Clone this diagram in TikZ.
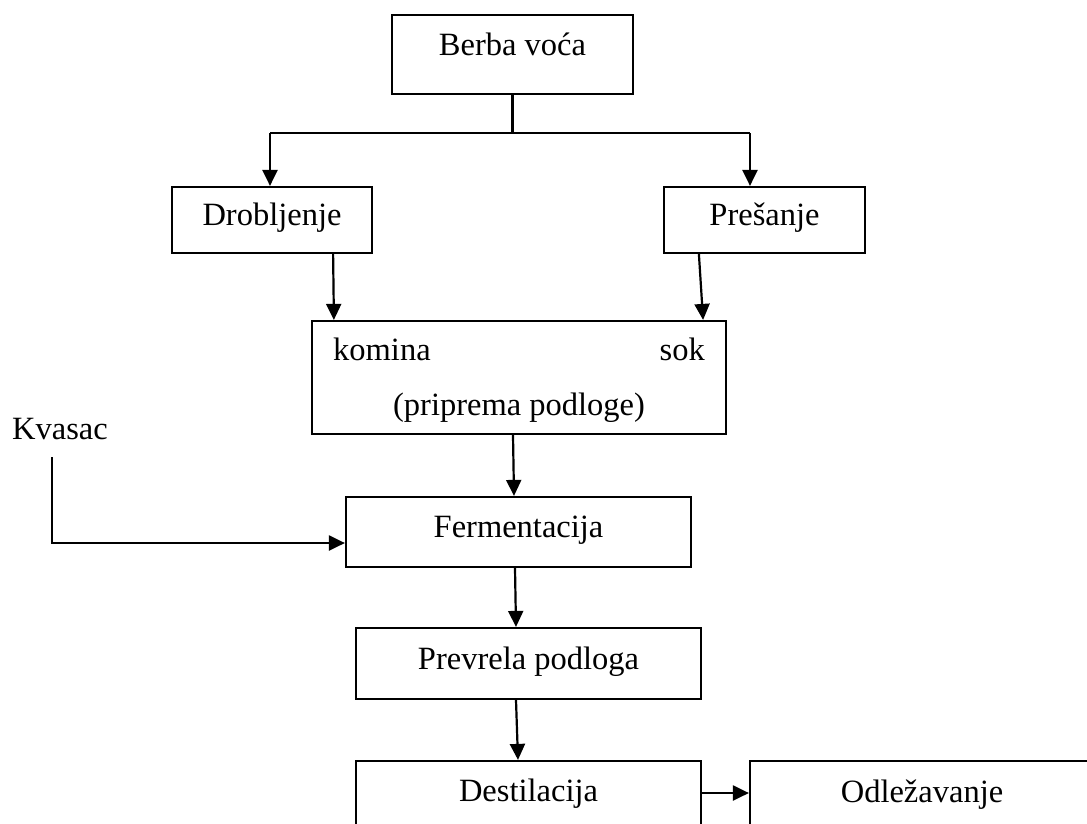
\documentclass[tikz,border=0pt]{standalone}
\usepackage{fontspec}
\setmainfont{Liberation Serif}
\usetikzlibrary{arrows.meta}
\begin{document}
\begin{tikzpicture}[x=1pt,y=-1pt,
  box/.style={draw, line width=2.2pt, inner xsep=0pt, inner ysep=0pt, anchor=base, font=\fontsize{32.5}{38}\selectfont},
  txt/.style={font=\fontsize{32.5}{38}\selectfont, inner sep=0pt},
  arr/.style={line width=2.2pt, -{Triangle[length=16pt,width=15pt]}},
  ln/.style={line width=2.2pt}]
\clip (0,0) rectangle (1087,823);
\fill[white] (0,0) rectangle (1087,823);
% boxes
\node[box, minimum width=241pt, text height=40pt, text depth=39pt] (berba) at (512.5,55) {Berba voća};
\node[box, minimum width=200pt, text height=38pt, text depth=28pt] (drob) at (272,225) {Drobljenje};
\node[box, minimum width=201pt, text height=38pt, text depth=28pt] (pres) at (764.5,225) {Prešanje};
\node[box, minimum width=414pt, text height=94pt, text depth=19pt] (prep) at (519,415) {(priprema podloge)};
\node[txt, anchor=base west] (komina) at (333,360) {komina};
\node[txt, anchor=base east] (sok) at (705,360) {sok};
\node[txt, anchor=base west] (kvasac) at (12,439) {Kvasac};
\node[box, minimum width=345pt, text height=40pt, text depth=30pt] (ferm) at (518.5,537) {Fermentacija};
\node[box, minimum width=345pt, text height=41pt, text depth=30pt] (prev) at (528.5,669) {Prevrela podloga};
\node[box, minimum width=345pt, text height=40pt, text depth=50pt] (dest) at (528.5,801) {Destilacija};
\node[box, minimum width=344pt, text height=41pt, text depth=50pt] (odl) at (922,802) {Odležavanje};
% connectors
\coordinate (split) at (512.5,133);
\coordinate (jl) at (270,133);
\coordinate (jr) at (750,133);
\draw[ln] (berba.south) -- (split);
\draw[ln] (jl) -- (jr);
\draw[arr] (jl) -- (jl |- drob.north);
\draw[arr] (jr) -- (jr |- pres.north);
\draw[arr] ([xshift=-40pt]drob.south east) -- ([xshift=23pt]prep.north west);
\draw[arr] ([xshift=36pt]pres.south west) -- ([xshift=-24pt]prep.north east);
\draw[arr] ([xshift=-6pt]prep.south) -- ([xshift=-4.5pt]ferm.north);
\coordinate (kv) at (52,457);
\draw[arr] (kv) |- (ferm.west |- 0,543);
\draw[arr] ([xshift=-3.5pt]ferm.south) -- ([xshift=-12.5pt]prev.north);
\draw[arr] ([xshift=-12.5pt]prev.south) -- ([xshift=-10.5pt]dest.north);
\draw[arr] (dest.east |- 0,793) -- (odl.west |- 0,793);
\end{tikzpicture}
\end{document}
